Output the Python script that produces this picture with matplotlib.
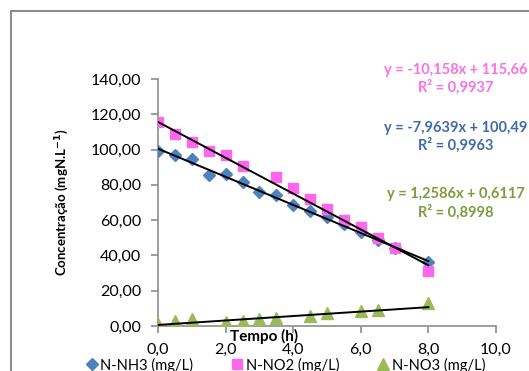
import matplotlib
matplotlib.use('Agg')
import matplotlib.pyplot as plt
from matplotlib.patches import Rectangle
from matplotlib.ticker import FuncFormatter

plt.rcParams['font.family'] = ['Lato', 'DejaVu Sans']

# data
t_nh3 = [0, 0.5, 1, 1.5, 2, 2.5, 3, 3.5, 4, 4.5, 5, 5.5, 6, 6.5, 7, 8]
nh3 = [99.2, 96.7, 94.5, 85.8, 86.3, 81.6, 76.1, 74.1, 68.8, 65.4, 61.8, 57.6, 53.5, 48.7, 44.0, 36.3]

t_no2 = [0, 0.5, 1, 1.5, 2, 2.5, 3.5, 4, 4.5, 5, 5.5, 6, 6.5, 7, 8]
no2 = [115.4, 108.8, 104.1, 99.2, 96.7, 90.9, 84.6, 78.2, 71.8, 66.3, 60.1, 56.3, 49.7, 44.0, 31.2]

t_no3 = [0, 0.5, 1, 2, 2.5, 3, 3.5, 4.5, 5, 6, 6.5, 8]
no3 = [1.1, 3.0, 3.8, 2.5, 2.8, 4.0, 4.7, 5.7, 7.2, 8.3, 9.1, 12.8]

# trend lines as written on the chart (slope, intercept, r2)
fit_nh3 = (-7.9639, 100.49, 0.9963)
fit_no2 = (-10.158, 115.66, 0.9937)
fit_no3 = (1.2586, 0.6117, 0.8998)
fit_range = [0, 8]

blue = '#4F81BD'
pink = '#FF66EE'
green = '#9BBB59'

fig = plt.figure(figsize=(5.29, 3.71), dpi=100)
fig.patches.append(Rectangle((11/529, -0.1), 1.2, 1.1 - 11/371, transform=fig.transFigure,
                             fill=False, edgecolor='#8c8c8c', linewidth=1.5))
ax = fig.add_axes([158/529, 1 - 326/371, 338/529, 247/371])

ax.plot(t_nh3, nh3, 'D', color=blue, markersize=6.5, label='N-NH3 (mg/L)', zorder=3)
ax.plot(t_no2, no2, 's', color=pink, markersize=7.5, label='N-NO2 (mg/L)', zorder=3)
ax.plot(t_no3, no3, '^', color=green, markersize=8, label='N-NO3 (mg/L)', zorder=3)

for a, b, r2 in [fit_nh3, fit_no2, fit_no3]:
    ax.plot(fit_range, [a * x + b for x in fit_range], color='black', linewidth=1.4, zorder=4)

ax.set_xlim(0, 10)
ax.set_ylim(0, 140)
ax.set_xticks([0, 2, 4, 6, 8, 10])
ax.set_yticks(range(0, 141, 20))
ax.xaxis.set_major_formatter(FuncFormatter(lambda v, p: ('%.1f' % v).replace('.', ',')))
ax.yaxis.set_major_formatter(FuncFormatter(lambda v, p: ('%.2f' % v).replace('.', ',')))
for s in ['top', 'right']:
    ax.spines[s].set_visible(False)
for s in ['left', 'bottom']:
    ax.spines[s].set_color('#8c8c8c')
    ax.spines[s].set_linewidth(1.2)
ax.tick_params(colors='#8c8c8c', labelcolor='black', labelsize=11.5, length=5, width=1.2)
ax.tick_params(axis='x', pad=7.5)
ax.tick_params(axis='y', pad=7)

ax.set_ylabel('Concentração (mgN.L$^{\\mathbf{-1}}$)', fontsize=9.5, fontweight='bold', labelpad=14)
ax.text(3.15, -1.5, 'Tempo (h)', ha='center', va='top', fontsize=11, fontweight='bold')

def eq_text(a, b, r2):
    sa = ('%g' % a).replace('.', ',')
    sb = ('%g' % b).replace('.', ',')
    sign = '+' if b >= 0 else '-'
    return 'y = %sx %s %s\nR² = %s' % (sa, sign, sb, ('%.4f' % r2).replace('.', ','))

for fit, col, ypix in [(fit_no2, '#F772E6', 79), (fit_nh3, '#3F6CA8', 137), (fit_no3, '#7E9C3E', 203.5)]:
    fig.text(456/529, 1 - ypix/371, eq_text(*fit), color=col, ha='center', va='center',
             multialignment='center', fontsize=10.5, fontweight='bold', linespacing=1.25)

leg = fig.legend(loc='center left', bbox_to_anchor=(80/529, 1 - 365/371), ncol=3, frameon=False,
                 fontsize=10.5, handlelength=0.8, handletextpad=0.2, columnspacing=2.6,
                 borderaxespad=0)

fig.savefig('out.png', dpi=100)
